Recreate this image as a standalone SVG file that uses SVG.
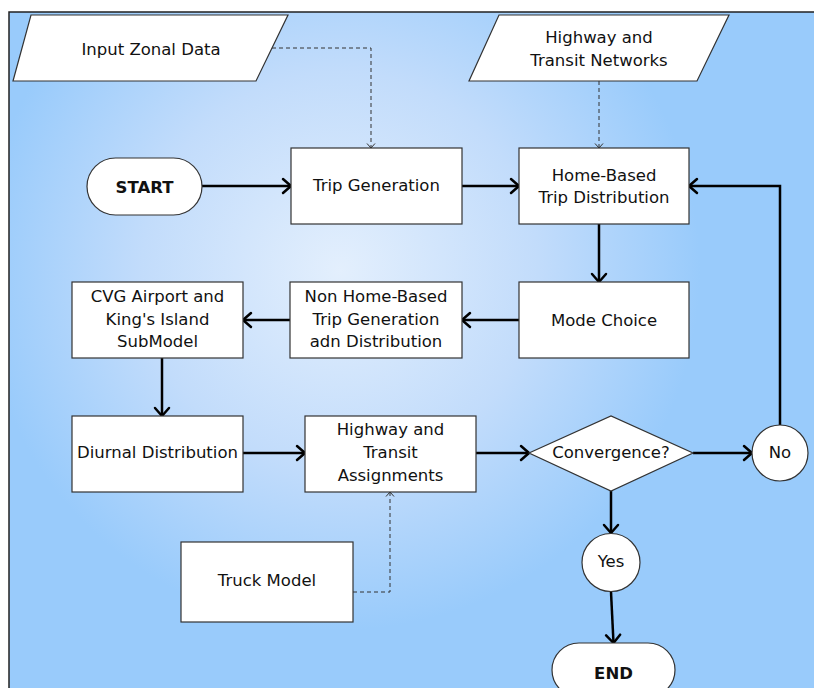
<svg xmlns="http://www.w3.org/2000/svg" width="814" height="688" viewBox="0 0 814 688">
<defs>
<radialGradient id="bg" gradientUnits="userSpaceOnUse" cx="340" cy="270" r="360">
<stop offset="0" stop-color="#e3effd"/>
<stop offset="0.55" stop-color="#c2dcfb"/>
<stop offset="1" stop-color="#99cbfb"/>
</radialGradient>
<marker id="arr" markerUnits="userSpaceOnUse" markerWidth="20" markerHeight="20" viewBox="0 0 20 20" refX="10" refY="10" orient="auto">
<path d="M2,3 L10,10 L2,17" fill="none" stroke="#000" stroke-width="2.5" stroke-linejoin="round" stroke-linecap="round"/>
</marker>
<marker id="darr" markerUnits="userSpaceOnUse" markerWidth="20" markerHeight="20" viewBox="0 0 20 20" refX="10" refY="10" orient="auto">
<path d="M5.5,6 L10,10 L5.5,14" fill="none" stroke="#333" stroke-width="1"/>
</marker>
</defs>
<style>
.box{fill:#fff;stroke:#333;stroke-width:1.2}
.t{font-family:"DejaVu Sans","Verdana",sans-serif;font-size:16.5px;fill:#111;text-anchor:middle}
.b{font-weight:bold}
.c{fill:none;stroke:#000;stroke-width:2.5;marker-end:url(#arr)}
.d{fill:none;stroke:#333;stroke-width:1;stroke-dasharray:4,3;marker-end:url(#darr)}
</style>
<rect width="814" height="688" fill="#fff"/>
<rect x="9" y="12" width="820" height="700" fill="url(#bg)" stroke="#222" stroke-width="1.5"/>

<g id="connectors">
<path class="d" d="M272,48 H371 V148"/>
<path class="d" d="M599,81 V148"/>
<path class="d" d="M353,592 H390 V492"/>
<path class="c" d="M202,186 H291"/>
<path class="c" d="M462,186 H519"/>
<path class="c" d="M599,224 V282"/>
<path class="c" d="M519,320 H462"/>
<path class="c" d="M290,320 H243"/>
<path class="c" d="M162,358 V416"/>
<path class="c" d="M243,453 H305"/>
<path class="c" d="M476,453 H529"/>
<path class="c" d="M693,453 H752"/>
<path class="c" d="M780,425 V186 H689"/>
<path class="c" d="M611,491 V533"/>
<path class="c" d="M611,592 L613.5,643"/>
</g>

<g id="input-zonal">
<polygon class="box" points="31,15 288,15 256,81 13,81"/>
<text class="t" x="151" y="54.5">Input Zonal Data</text>
</g>
<g id="networks">
<polygon class="box" points="499,15 729,15 697,81 469,81"/>
<text class="t" x="599" y="43">Highway and</text>
<text class="t" x="599" y="66">Transit Networks</text>
</g>
<g id="start">
<rect class="box" x="87" y="158" width="115" height="57" rx="28.5"/>
<text class="t b" x="144.5" y="192.5">START</text>
</g>
<g id="trip-generation">
<rect class="box" x="291" y="148" width="171" height="76"/>
<text class="t" x="376.5" y="191">Trip Generation</text>
</g>
<g id="hb-distribution">
<rect class="box" x="519" y="148" width="170" height="76"/>
<text class="t" x="604" y="180.5">Home-Based</text>
<text class="t" x="604" y="202.7">Trip Distribution</text>
</g>
<g id="mode-choice">
<rect class="box" x="519" y="282" width="170" height="76"/>
<text class="t" x="604" y="326">Mode Choice</text>
</g>
<g id="nhb">
<rect class="box" x="290" y="282" width="172" height="76"/>
<text class="t" x="376" y="302">Non Home-Based</text>
<text class="t" x="376" y="324.7">Trip Generation</text>
<text class="t" x="376" y="347">adn Distribution</text>
</g>
<g id="cvg">
<rect class="box" x="72" y="282" width="171" height="76"/>
<text class="t" x="157.5" y="302">CVG Airport and</text>
<text class="t" x="157.5" y="324.7">King's Island</text>
<text class="t" x="157.5" y="347">SubModel</text>
</g>
<g id="diurnal">
<rect class="box" x="72" y="416" width="171" height="76"/>
<text class="t" x="157.5" y="457.7">Diurnal Distribution</text>
</g>
<g id="assignments">
<rect class="box" x="305" y="416" width="171" height="76"/>
<text class="t" x="390.5" y="435.3">Highway and</text>
<text class="t" x="390.5" y="458">Transit</text>
<text class="t" x="390.5" y="480.5">Assignments</text>
</g>
<g id="convergence">
<polygon class="box" points="529,453 611,416 693,453 611,491"/>
<text class="t" x="611" y="457.7">Convergence?</text>
</g>
<g id="no">
<circle class="box" cx="780" cy="453" r="28"/>
<text class="t" x="780" y="458">No</text>
</g>
<g id="yes">
<circle class="box" cx="611" cy="562.5" r="29"/>
<text class="t" x="611" y="567">Yes</text>
</g>
<g id="truck">
<rect class="box" x="181" y="542" width="172" height="80"/>
<text class="t" x="267" y="585.5">Truck Model</text>
</g>
<g id="end">
<rect class="box" x="552" y="643" width="123" height="54" rx="27"/>
<text class="t b" x="613.5" y="679">END</text>
</g>
</svg>
